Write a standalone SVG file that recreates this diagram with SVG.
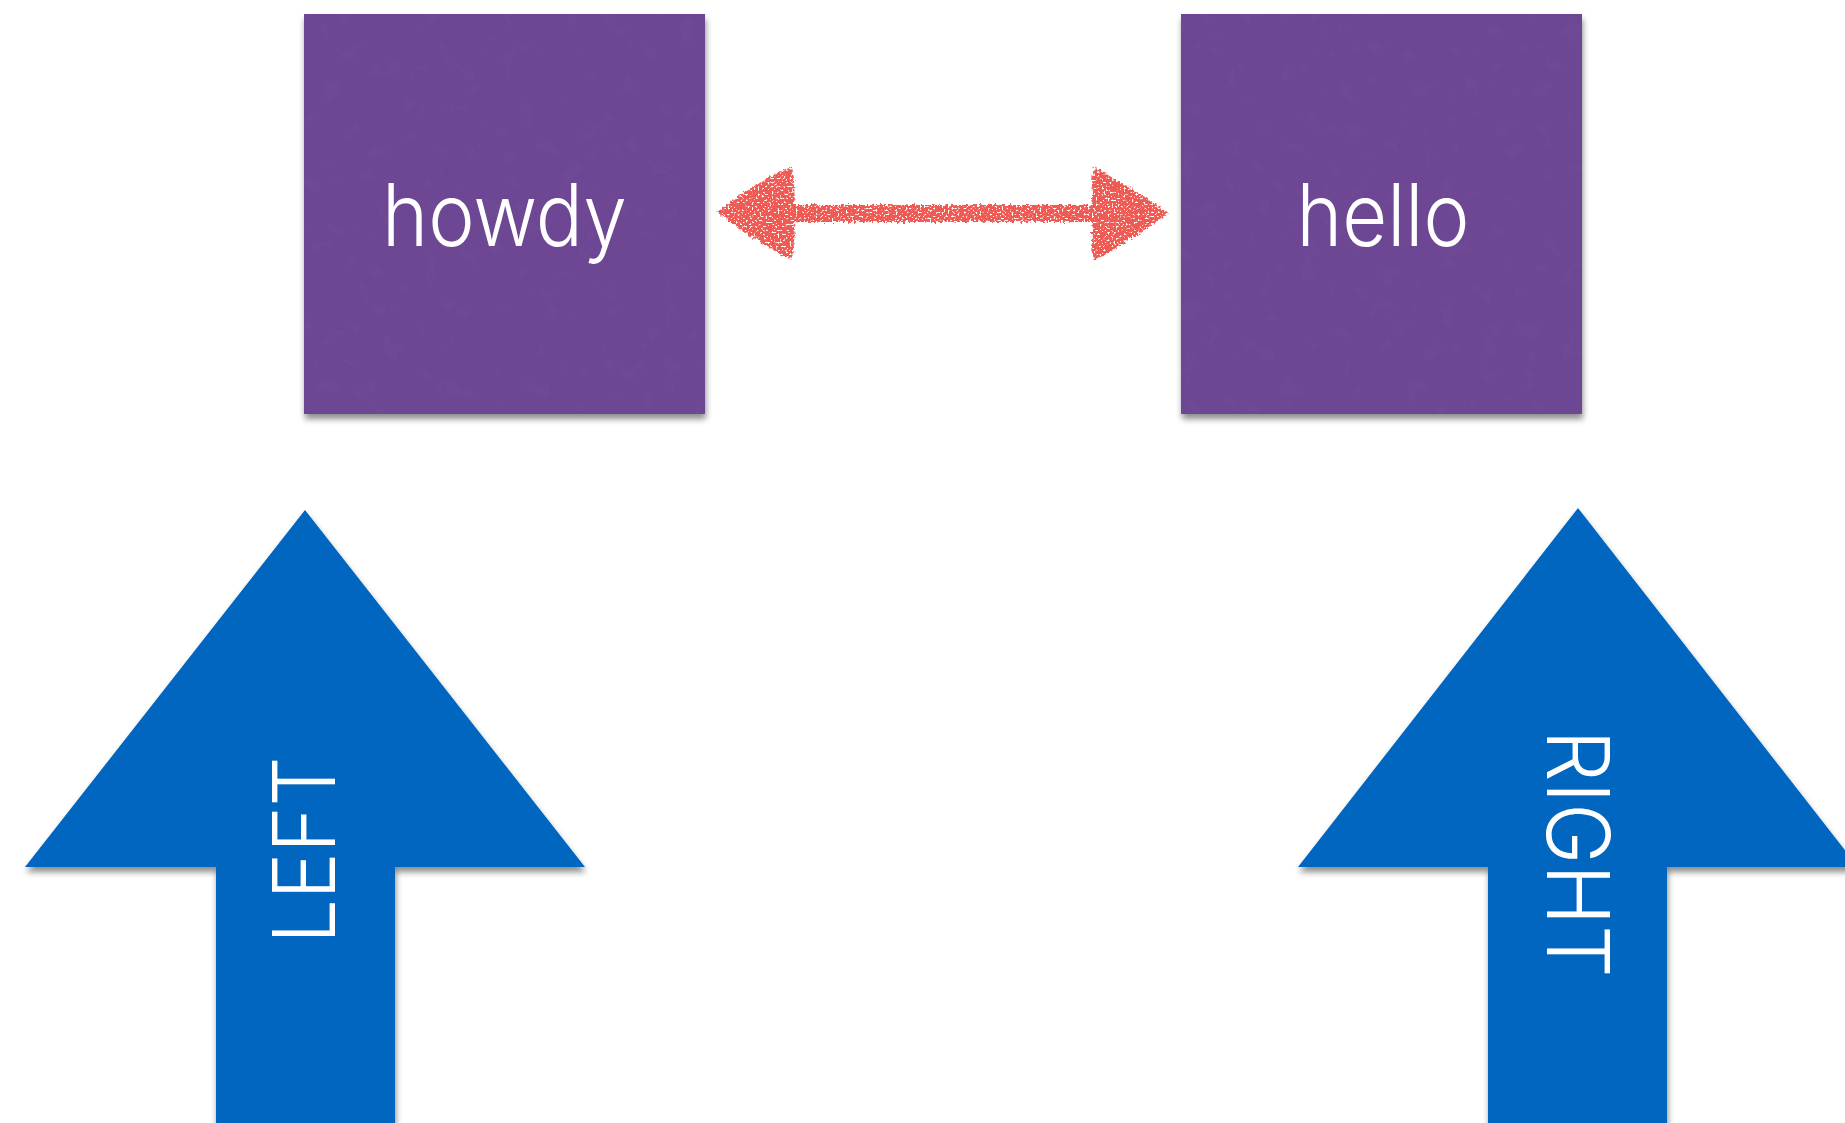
<svg xmlns="http://www.w3.org/2000/svg" width="1845" height="1123" viewBox="0 0 1845 1123">
<style>
.box{fill:#6f4a95;}
.lbl{font-family:Inter,"Liberation Sans",sans-serif;font-weight:300;fill:#ffffff;}
.big{fill:#0566c0;}
</style>
<defs>
<filter id="shadow" x="-10%" y="-10%" width="130%" height="130%">
<feGaussianBlur in="SourceAlpha" stdDeviation="3"/>
<feOffset dx="1" dy="5" result="b"/>
<feComponentTransfer><feFuncA type="linear" slope="0.45"/></feComponentTransfer>
<feMerge><feMergeNode/><feMergeNode in="SourceGraphic"/></feMerge>
</filter>
<filter id="paper" x="0" y="0" width="100%" height="100%">
<feTurbulence type="fractalNoise" baseFrequency="0.05" numOctaves="3" seed="3" result="n"/>
<feColorMatrix in="n" type="matrix" values="0 0 0 0 0  0 0 0 0 0  0 0 0 0 0  0 0 0 0.1 -0.03" result="w"/>
<feComposite in="w" in2="SourceGraphic" operator="in" result="t"/>
<feMerge><feMergeNode in="SourceGraphic"/><feMergeNode in="t"/></feMerge>
</filter>
<filter id="chalk" x="-5%" y="-20%" width="110%" height="140%">
<feTurbulence type="fractalNoise" baseFrequency="0.35" numOctaves="2" seed="7" result="n"/>
<feDisplacementMap in="SourceGraphic" in2="n" scale="6" xChannelSelector="R" yChannelSelector="G" result="d"/>
<feTurbulence type="fractalNoise" baseFrequency="0.5" numOctaves="1" seed="11" result="h"/>
<feColorMatrix in="h" type="matrix" values="0 0 0 0 0  0 0 0 0 0  0 0 0 0 0  -8 0 0 0 5.6" result="m"/>
<feComposite in="d" in2="m" operator="in"/>
</filter>
</defs>
<g id="node-howdy" filter="url(#shadow)">
<rect class="box" x="304" y="14" width="401" height="400" filter="url(#paper)"/>
<text class="lbl" x="504.5" y="246" font-size="86" text-anchor="middle" textLength="245" lengthAdjust="spacingAndGlyphs">howdy</text>
</g>
<g id="node-hello" filter="url(#shadow)">
<rect class="box" x="1181" y="14" width="401" height="400" filter="url(#paper)"/>
<text class="lbl" x="1383" y="246" font-size="86" text-anchor="middle" textLength="173" lengthAdjust="spacingAndGlyphs">hello</text>
</g>
<g id="node-left" filter="url(#shadow)">
<polygon class="big" points="305,510 585,867 395,867 395,1130 216,1130 216,867 25,867"/>
<text class="lbl" transform="translate(335,850) rotate(-90)" x="0" y="0" font-size="86" text-anchor="middle" textLength="187" lengthAdjust="spacingAndGlyphs">LEFT</text>
</g>
<g id="node-right" filter="url(#shadow)">
<polygon class="big" points="1578,508 1858,867 1667,867 1667,1130 1488,1130 1488,867 1298,867"/>
<text class="lbl" transform="translate(1547,853.5) rotate(90)" x="0" y="0" font-size="86" text-anchor="middle" textLength="248" lengthAdjust="spacingAndGlyphs">RIGHT</text>
</g>
<g id="connectors">
<path fill="#ec5b55" filter="url(#chalk)" d="M717,212 Q750,185 791,167 Q796,190 794,205 L1093,205 Q1090,185 1094,167 Q1135,190 1168,213 Q1135,238 1094,261 Q1090,240 1093,222 L794,222 Q796,240 791,260 Q750,238 717,212 Z"/>
</g>
</svg>
